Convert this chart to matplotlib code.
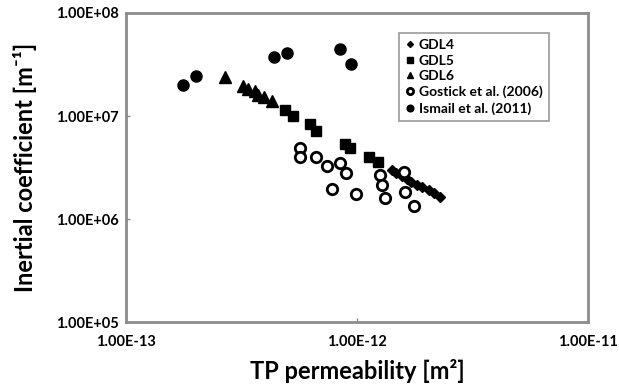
import matplotlib.pyplot as plt
from matplotlib.ticker import FixedLocator, FixedFormatter

plt.rcParams['font.family'] = ['Lato', 'DejaVu Sans']
plt.rcParams['font.weight'] = 'bold'

# GDL4 (diamonds)
gdl4_k = [1.41e-12, 1.48e-12, 1.56e-12, 1.64e-12, 1.72e-12, 1.81e-12, 1.92e-12, 2.04e-12, 2.15e-12, 2.28e-12]
gdl4_b = [2.99e6, 2.80e6, 2.61e6, 2.44e6, 2.29e6, 2.14e6, 2.05e6, 1.91e6, 1.79e6, 1.64e6]

# GDL5 (squares)
gdl5_k = [4.90e-13, 5.30e-13, 6.28e-13, 6.67e-13, 8.91e-13, 9.28e-13, 1.13e-12, 1.23e-12]
gdl5_b = [1.14e7, 1.00e7, 8.36e6, 7.15e6, 5.35e6, 4.89e6, 4.00e6, 3.57e6]

# GDL6 (triangles)
gdl6_k = [2.69e-13, 3.22e-13, 3.38e-13, 3.63e-13, 3.74e-13, 3.97e-13, 4.30e-13]
gdl6_b = [2.39e7, 1.96e7, 1.83e7, 1.75e7, 1.60e7, 1.53e7, 1.40e7]

# Gostick et al. (2006), open circles
gostick_k = [5.69e-13, 5.69e-13, 6.61e-13, 7.38e-13, 8.48e-13, 9.00e-13, 7.83e-13,
             9.85e-13, 1.26e-12, 1.28e-12, 1.32e-12, 1.59e-12, 1.61e-12, 1.76e-12]
gostick_b = [4.89e6, 4.00e6, 4.00e6, 3.27e6, 3.50e6, 2.80e6, 1.95e6,
             1.75e6, 2.67e6, 2.14e6, 1.60e6, 2.86e6, 1.83e6, 1.34e6]

# Ismail et al. (2011), filled circles
ismail_k = [1.77e-13, 2.01e-13, 4.39e-13, 4.99e-13, 8.40e-13, 9.37e-13]
ismail_b = [2.00e7, 2.44e7, 3.74e7, 4.09e7, 4.47e7, 3.20e7]

xticks = [1e-13, 1e-12, 1e-11]
xtick_labels = ['1.00E-13', '1.00E-12', '1.00E-11']
yticks = [1e5, 1e6, 1e7, 1e8]
ytick_labels = ['1.00E+05', '1.00E+06', '1.00E+07', '1.00E+08']

fig = plt.figure(figsize=(6.19, 3.89), dpi=100)
ax = fig.add_axes([0.2036, 0.172, 0.7464, 0.7946])

ax.plot(gdl4_k, gdl4_b, 'D', color='black', markersize=5, label='GDL4')
ax.plot(gdl5_k, gdl5_b, 's', color='black', markersize=7.5, label='GDL5')
ax.plot(gdl6_k, gdl6_b, '^', color='black', markersize=8, label='GDL6')
ax.plot(gostick_k, gostick_b, 'o', color='black', markerfacecolor='white',
        markersize=7.5, markeredgewidth=2, label='Gostick et al. (2006)')
ax.plot(ismail_k, ismail_b, 'o', color='black', markersize=8, label='Ismail et al. (2011)')

ax.set_xscale('log')
ax.set_yscale('log')
ax.set_xlim(1e-13, 1e-11)
ax.set_ylim(1e5, 1e8)
ax.xaxis.set_major_locator(FixedLocator(xticks))
ax.xaxis.set_major_formatter(FixedFormatter(xtick_labels))
ax.yaxis.set_major_locator(FixedLocator(yticks))
ax.yaxis.set_major_formatter(FixedFormatter(ytick_labels))
ax.minorticks_off()
ax.tick_params(direction='in', length=3, width=1, color='#8c8c8c', labelsize=10.5)
ax.tick_params(axis='x', pad=9)
ax.tick_params(axis='y', pad=5)

for s in ax.spines.values():
    s.set_color('#8c8c8c')
    s.set_linewidth(2)

ax.set_xlabel('TP permeability [m²]', fontsize=17, fontweight='bold')
ax.set_ylabel('Inertial coefficient [m⁻¹]', fontsize=17, fontweight='bold')
ax.xaxis.set_label_coords(0.5, -0.12)
ax.yaxis.set_label_coords(-0.193, 0.5)

leg = ax.legend(loc='upper left', bbox_to_anchor=(0.591, 0.935), fontsize=10,
                handlelength=0.7, handletextpad=0.25, labelspacing=0.25,
                borderpad=0.45, borderaxespad=0, fancybox=False,
                edgecolor='#808080', markerscale=0.6)
leg.get_frame().set_linewidth(1.2)
for t in leg.get_texts():
    t.set_fontweight('bold')

fig.savefig('out.png', dpi=100)
